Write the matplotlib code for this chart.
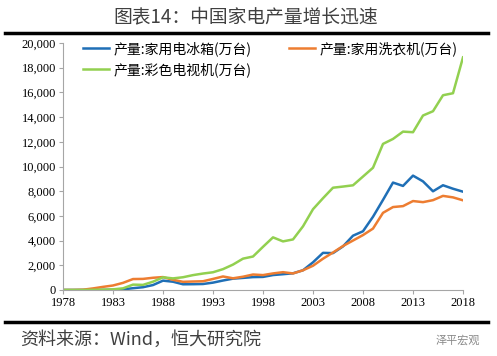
import numpy as np
import matplotlib.pyplot as plt
from matplotlib.lines import Line2D

plt.rcParams['font.family'] = ['Noto Sans CJK SC', 'DejaVu Sans']

years = list(range(1978, 2019))

# 产量 (万台)
fridge = [2.8, 3.2, 4.9, 5.6, 10, 18.9, 54.7, 144.8, 225, 401, 757.6, 670.8, 463,
          469.9, 485.8, 596.7, 768, 918.5, 979.7, 1044, 1060, 1210, 1279, 1351, 1599,
          2242, 3008, 2987, 3531, 4397, 4757, 5930, 7296, 8699, 8427, 9261, 8796,
          7993, 8481, 8200, 7960]
washer = [0.04, 1.8, 24.5, 128, 253, 365, 578, 887, 899, 990, 1047, 825, 663,
          687, 708, 896, 1095, 948, 1075, 1254, 1207, 1342, 1443, 1341, 1596,
          1964, 2533, 3036, 3561, 4005, 4447, 4973, 6248, 6716, 6791, 7202, 7114,
          7275, 7621, 7500, 7262]
tv = [0.38, 1.0, 3.2, 15.2, 28.8, 53.1, 134, 435.3, 414.6, 672.7, 1027.7, 940, 1033,
      1205, 1333, 1436, 1689, 2058, 2538, 2711, 3497, 4262, 3936, 4094, 5155,
      6541, 7432, 8283, 8375, 8478, 9187, 9899, 11830, 12231, 12824, 12776, 14129,
      14476, 15770, 15933, 18835]

labels = ['产量:家用电冰箱(万台)', '产量:家用洗衣机(万台)', '产量:彩色电视机(万台)']
colors = ['#1f6fb6', '#ed7d31', '#92d050']
xticks = list(range(1978, 2019, 5))
yticks = list(range(0, 20001, 2000))

fig = plt.figure(figsize=(4.97, 3.56), dpi=100)
ax = fig.add_axes([63 / 497, 1 - 290 / 356, 400 / 497, 247 / 356])

for vals, lab, c in zip([fridge, washer, tv], labels, colors):
    ax.plot(years, vals, color=c, lw=1.8, label=lab)

ax.set_xlim(1978, 2018)
ax.set_ylim(0, 20000)
ax.set_xticks(xticks)
ax.set_yticks(yticks)
ax.set_yticklabels([f'{v:,}' for v in yticks])
for s in ['top', 'right']:
    ax.spines[s].set_visible(False)
for s in ['left', 'bottom']:
    ax.spines[s].set_color('#a6a6a6')
    ax.spines[s].set_linewidth(0.8)
ax.tick_params(direction='out', length=3, width=0.8, color='#a6a6a6',
               labelcolor='#000000', pad=2)
for t in ax.get_xticklabels() + ax.get_yticklabels():
    t.set_fontfamily('Liberation Serif')
    t.set_fontsize(9)

h, l = ax.get_legend_handles_labels()
# order: fridge, washer in first row, tv in second row
order = [0, 2, 1]
ax.legend([h[i] for i in order], [l[i] for i in order], ncol=2, loc='upper left',
          bbox_to_anchor=(83 / 497, 1 - 41 / 356), bbox_transform=fig.transFigure,
          frameon=False, borderpad=0, borderaxespad=0,
          handlelength=1.9, handletextpad=0.3, columnspacing=2.7, labelspacing=0.45,
          prop={'size': 10})

fig.text(0.495, 1 - 17 / 356, '图表14：中国家电产量增长迅速', ha='center', va='center',
         fontsize=13.5, color='#404040')
fig.add_artist(Line2D([5 / 497, 488 / 497], [1 - 33 / 356] * 2, color='black', lw=2.5))
fig.add_artist(Line2D([5 / 497, 488 / 497], [1 - 322 / 356] * 2, color='black', lw=2.5))
fig.text(20 / 497, 1 - 340 / 356, '资料来源：Wind，恒大研究院', ha='left', va='center',
         fontsize=13, color='#404040', style='italic')
fig.text(480 / 497, 1 - 340 / 356, '泽平宏观', ha='right', va='center',
         fontsize=8, color='#888888')

fig.savefig('out.png', dpi=100)
